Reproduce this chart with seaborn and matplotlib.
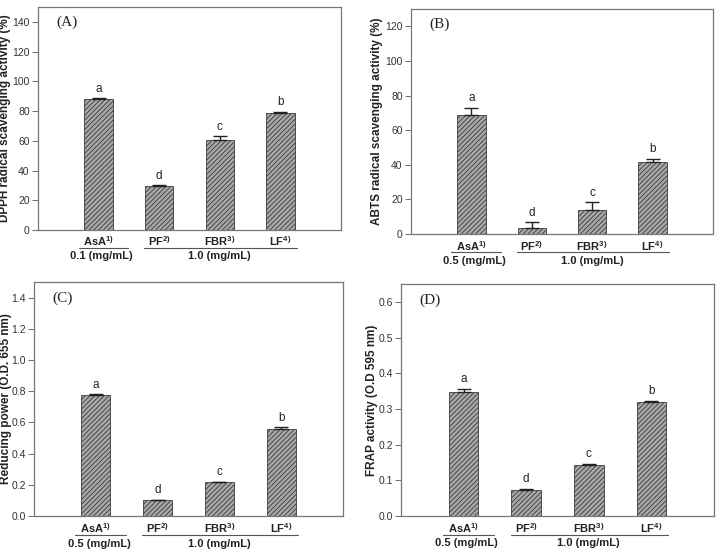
import seaborn as sns
import matplotlib.pyplot as plt
import matplotlib.transforms as mtransforms
import pandas as pd

# sample names and data
samples = ["AsA", "PF", "FBR", "LF"]
sups = ["1)", "2)", "3)", "4)"]

dpph = [88.0, 29.5, 60.5, 78.5]
dpph_err = [0.5, 0.5, 2.5, 1.0]
abts = [68.5, 3.5, 14.0, 41.5]
abts_err = [4.5, 3.5, 4.5, 2.0]
reducing = [0.775, 0.100, 0.215, 0.555]
reducing_err = [0.006, 0.003, 0.004, 0.015]
frap = [0.348, 0.073, 0.142, 0.320]
frap_err = [0.008, 0.003, 0.005, 0.003]
letters = ["a", "d", "c", "b"]

sns.set_theme(style="white")
plt.rcParams["font.family"] = ["Liberation Sans", "DejaVu Sans"]
plt.rcParams["hatch.linewidth"] = 0.6
plt.rcParams["mathtext.default"] = "regular"

fig = plt.figure(figsize=(7.19, 5.49), dpi=100)
W, H = 719, 549


def px_axes(left, right, top, bottom):
    return fig.add_axes([left / W, 1 - bottom / H, (right - left) / W, (bottom - top) / H])


panels = [
    dict(box=(38, 341, 7, 230), vals=dpph, err=dpph_err, ylim=(0, 150), step=20,
         fmt="{:.0f}", top=140, tag="(A)", conc="0.1 (mg/mL)",
         ylabel="DPPH radical scavenging activity (%)", lab=-0.09),
    dict(box=(411, 713, 9, 234), vals=abts, err=abts_err, ylim=(0, 130), step=20,
         fmt="{:.0f}", top=120, tag="(B)", conc="0.5 (mg/mL)",
         ylabel="ABTS radical scavenging activity (%)", lab=-0.092),
    dict(box=(34, 343, 282, 516), vals=reducing, err=reducing_err, ylim=(0, 1.5), step=0.2,
         fmt="{:.1f}", top=1.4, tag="(C)", conc="0.5 (mg/mL)",
         ylabel="Reducing power (O.D. 655 nm)", lab=-0.07),
    dict(box=(401, 714, 284, 516), vals=frap, err=frap_err, ylim=(0, 0.65), step=0.1,
         fmt="{:.1f}", top=0.6, tag="(D)", conc="0.5 (mg/mL)",
         ylabel="FRAP activity (O.D 595 nm)", lab=-0.074),
]

for p in panels:
    ax = px_axes(*p["box"])
    df = pd.DataFrame({"Sample": samples, "Value": p["vals"], "Err": p["err"]})
    sns.barplot(data=df, x="Sample", y="Value", ax=ax, width=0.47, color="#a8a8a8",
                saturation=1, errorbar=None, edgecolor="#3a3a3a", linewidth=0.6)
    for bar in ax.patches:
        bar.set_hatch("///////")
    # upper error bars only
    ax.errorbar(range(len(samples)), df["Value"], yerr=[[0] * len(samples), df["Err"]],
                fmt="none", ecolor="#222222", elinewidth=1.0, capsize=5, capthick=1.0)
    span = p["ylim"][1] - p["ylim"][0]
    for i, (v, e, l) in enumerate(zip(df["Value"], df["Err"], letters)):
        ax.text(i, v + e + span * 0.015, l, ha="center", va="bottom", fontsize=8.5, color="#222222")

    ax.set_xlim(-1.0, 4.0)
    ax.set_ylim(*p["ylim"])
    n = int(round(p["top"] / p["step"]))
    ticks = [k * p["step"] for k in range(n + 1)]
    ax.set_yticks(ticks)
    ax.set_yticklabels([p["fmt"].format(t) for t in ticks], fontsize=7.5, color="#333333")
    ax.tick_params(axis="y", left=True, length=4, width=0.6, color="#555555", pad=2)
    ax.set_xticks([])
    ax.set_xlabel("")
    ax.set_ylabel(p["ylabel"], fontsize=8.5, fontweight="bold", color="#222222")
    ax.yaxis.set_label_coords(p["lab"], 0.5)
    for s in ax.spines.values():
        s.set_color("#777777")
        s.set_linewidth(0.9)

    ax.text(0.06, 0.93, p["tag"], transform=ax.transAxes, fontsize=11,
            family="Liberation Serif", color="#222222", va="center")

    # sample names and concentration group lines under the axis
    trans = mtransforms.blended_transform_factory(ax.transData, ax.transAxes)
    for i, (s, u) in enumerate(zip(samples, sups)):
        ax.text(i, -0.052, f"{s}$^{{{u}}}$", transform=trans, ha="center", va="center",
                fontsize=8, fontweight="bold", color="#222222")
    ax.plot([-0.33, 0.49], [-0.082, -0.082], transform=trans, color="#555555", lw=0.8, clip_on=False)
    ax.plot([0.75, 3.27], [-0.082, -0.082], transform=trans, color="#555555", lw=0.8, clip_on=False)
    ax.text(0.05, -0.118, p["conc"], transform=trans, ha="center", va="center",
            fontsize=8, fontweight="bold", color="#222222")
    ax.text(2.0, -0.118, "1.0 (mg/mL)", transform=trans, ha="center", va="center",
            fontsize=8, fontweight="bold", color="#222222")

fig.savefig("out.png", dpi=100)
